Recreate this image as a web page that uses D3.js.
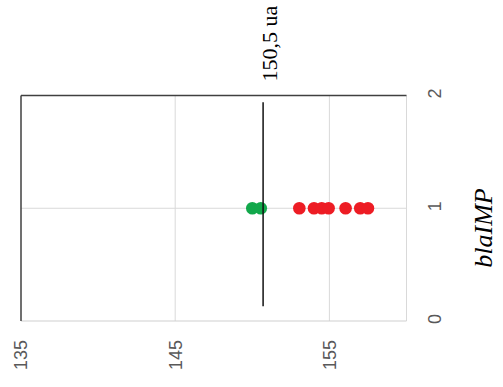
<!DOCTYPE html>
<html><head><meta charset="utf-8">
<script src="https://cdn.jsdelivr.net/npm/d3@7"></script>
<style>body{margin:0;background:#fff}svg{display:block}</style>
</head><body>
<svg id="c" width="503" height="387"></svg>
<script>
const xTicks = [135, 145, 155];
const yTicks = [0, 1, 2];
const greenValues = [150.0, 150.55];
const redValues = [153.05, 154.0, 154.5, 154.95, 156.05, 157.0, 157.5];
const pointLevel = 1;
const cutoffValue = 150.7;
const cutoffRange = [0.13, 1.94];
const cutoffLabel = "150,5 ua";
const geneLabel = "blaIMP";

const svg = d3.select("#c");
const L = 21, R = 406.5, T = 95.5, B = 321;
const x = d3.scaleLinear().domain([135, 160]).range([L, R]);
const y = d3.scaleLinear().domain([0, 2]).range([B, T]);

// gridlines
svg.append("g").selectAll("line").data(xTicks.filter(d => d !== 135)).join("line")
  .attr("x1", d => x(d)).attr("x2", d => x(d)).attr("y1", T).attr("y2", B)
  .attr("stroke", "#d9d9d9").attr("stroke-width", 1);
svg.append("g").selectAll("line").data(yTicks.filter(d => d === 1)).join("line")
  .attr("x1", L).attr("x2", R).attr("y1", d => y(d)).attr("y2", d => y(d))
  .attr("stroke", "#d9d9d9").attr("stroke-width", 1);

// borders
svg.append("line").attr("x1", R).attr("x2", R).attr("y1", T).attr("y2", B).attr("stroke", "#d9d9d9").attr("stroke-width", 1);
svg.append("line").attr("x1", L).attr("x2", R).attr("y1", B).attr("y2", B).attr("stroke", "#d0d0d0").attr("stroke-width", 1.2);
svg.append("line").attr("x1", L).attr("x2", R).attr("y1", T).attr("y2", T).attr("stroke", "#404040").attr("stroke-width", 1.5);
svg.append("line").attr("x1", L).attr("x2", L).attr("y1", T).attr("y2", B).attr("stroke", "#404040").attr("stroke-width", 1.5);

// x tick labels (rotated)
svg.append("g").selectAll("text").data(xTicks).join("text")
  .attr("transform", d => `translate(${x(d)},340) rotate(-90)`)
  .attr("text-anchor", "end").attr("dy", "0.36em")
  .attr("font-family", "Liberation Sans, Arial, sans-serif").attr("font-size", 18)
  .attr("fill", "#595959").text(d => d);

// y tick labels (rotated)
svg.append("g").selectAll("text").data(yTicks).join("text")
  .attr("transform", d => `translate(435,${y(d) - 2}) rotate(-90)`)
  .attr("text-anchor", "middle").attr("dy", "0.36em")
  .attr("font-family", "Liberation Sans, Arial, sans-serif").attr("font-size", 18)
  .attr("fill", "#595959").text(d => d);

// points
svg.append("g").selectAll("circle").data(redValues).join("circle")
  .attr("cx", d => x(d)).attr("cy", y(pointLevel)).attr("r", 6.3).attr("fill", "#ed1c24");
svg.append("g").selectAll("circle").data(greenValues).join("circle")
  .attr("cx", d => x(d)).attr("cy", y(pointLevel)).attr("r", 6.3).attr("fill", "#12a84b");

// cutoff line
svg.append("line").attr("x1", x(cutoffValue)).attr("x2", x(cutoffValue))
  .attr("y1", y(cutoffRange[0])).attr("y2", y(cutoffRange[1]))
  .attr("stroke", "#111").attr("stroke-width", 1.5);

// cutoff label
svg.append("text").attr("transform", `translate(277,43.5) rotate(-90)`)
  .attr("text-anchor", "middle")
  .attr("font-family", "Liberation Serif, Times New Roman, serif").attr("font-size", 22)
  .attr("fill", "#000").text(cutoffLabel);

// gene label
svg.append("text").attr("transform", `translate(492,228) rotate(-90)`)
  .attr("text-anchor", "middle").attr("font-style", "italic")
  .attr("font-family", "Liberation Serif, Times New Roman, serif").attr("font-size", 26)
  .attr("fill", "#000").text(geneLabel);
</script>
</body></html>
